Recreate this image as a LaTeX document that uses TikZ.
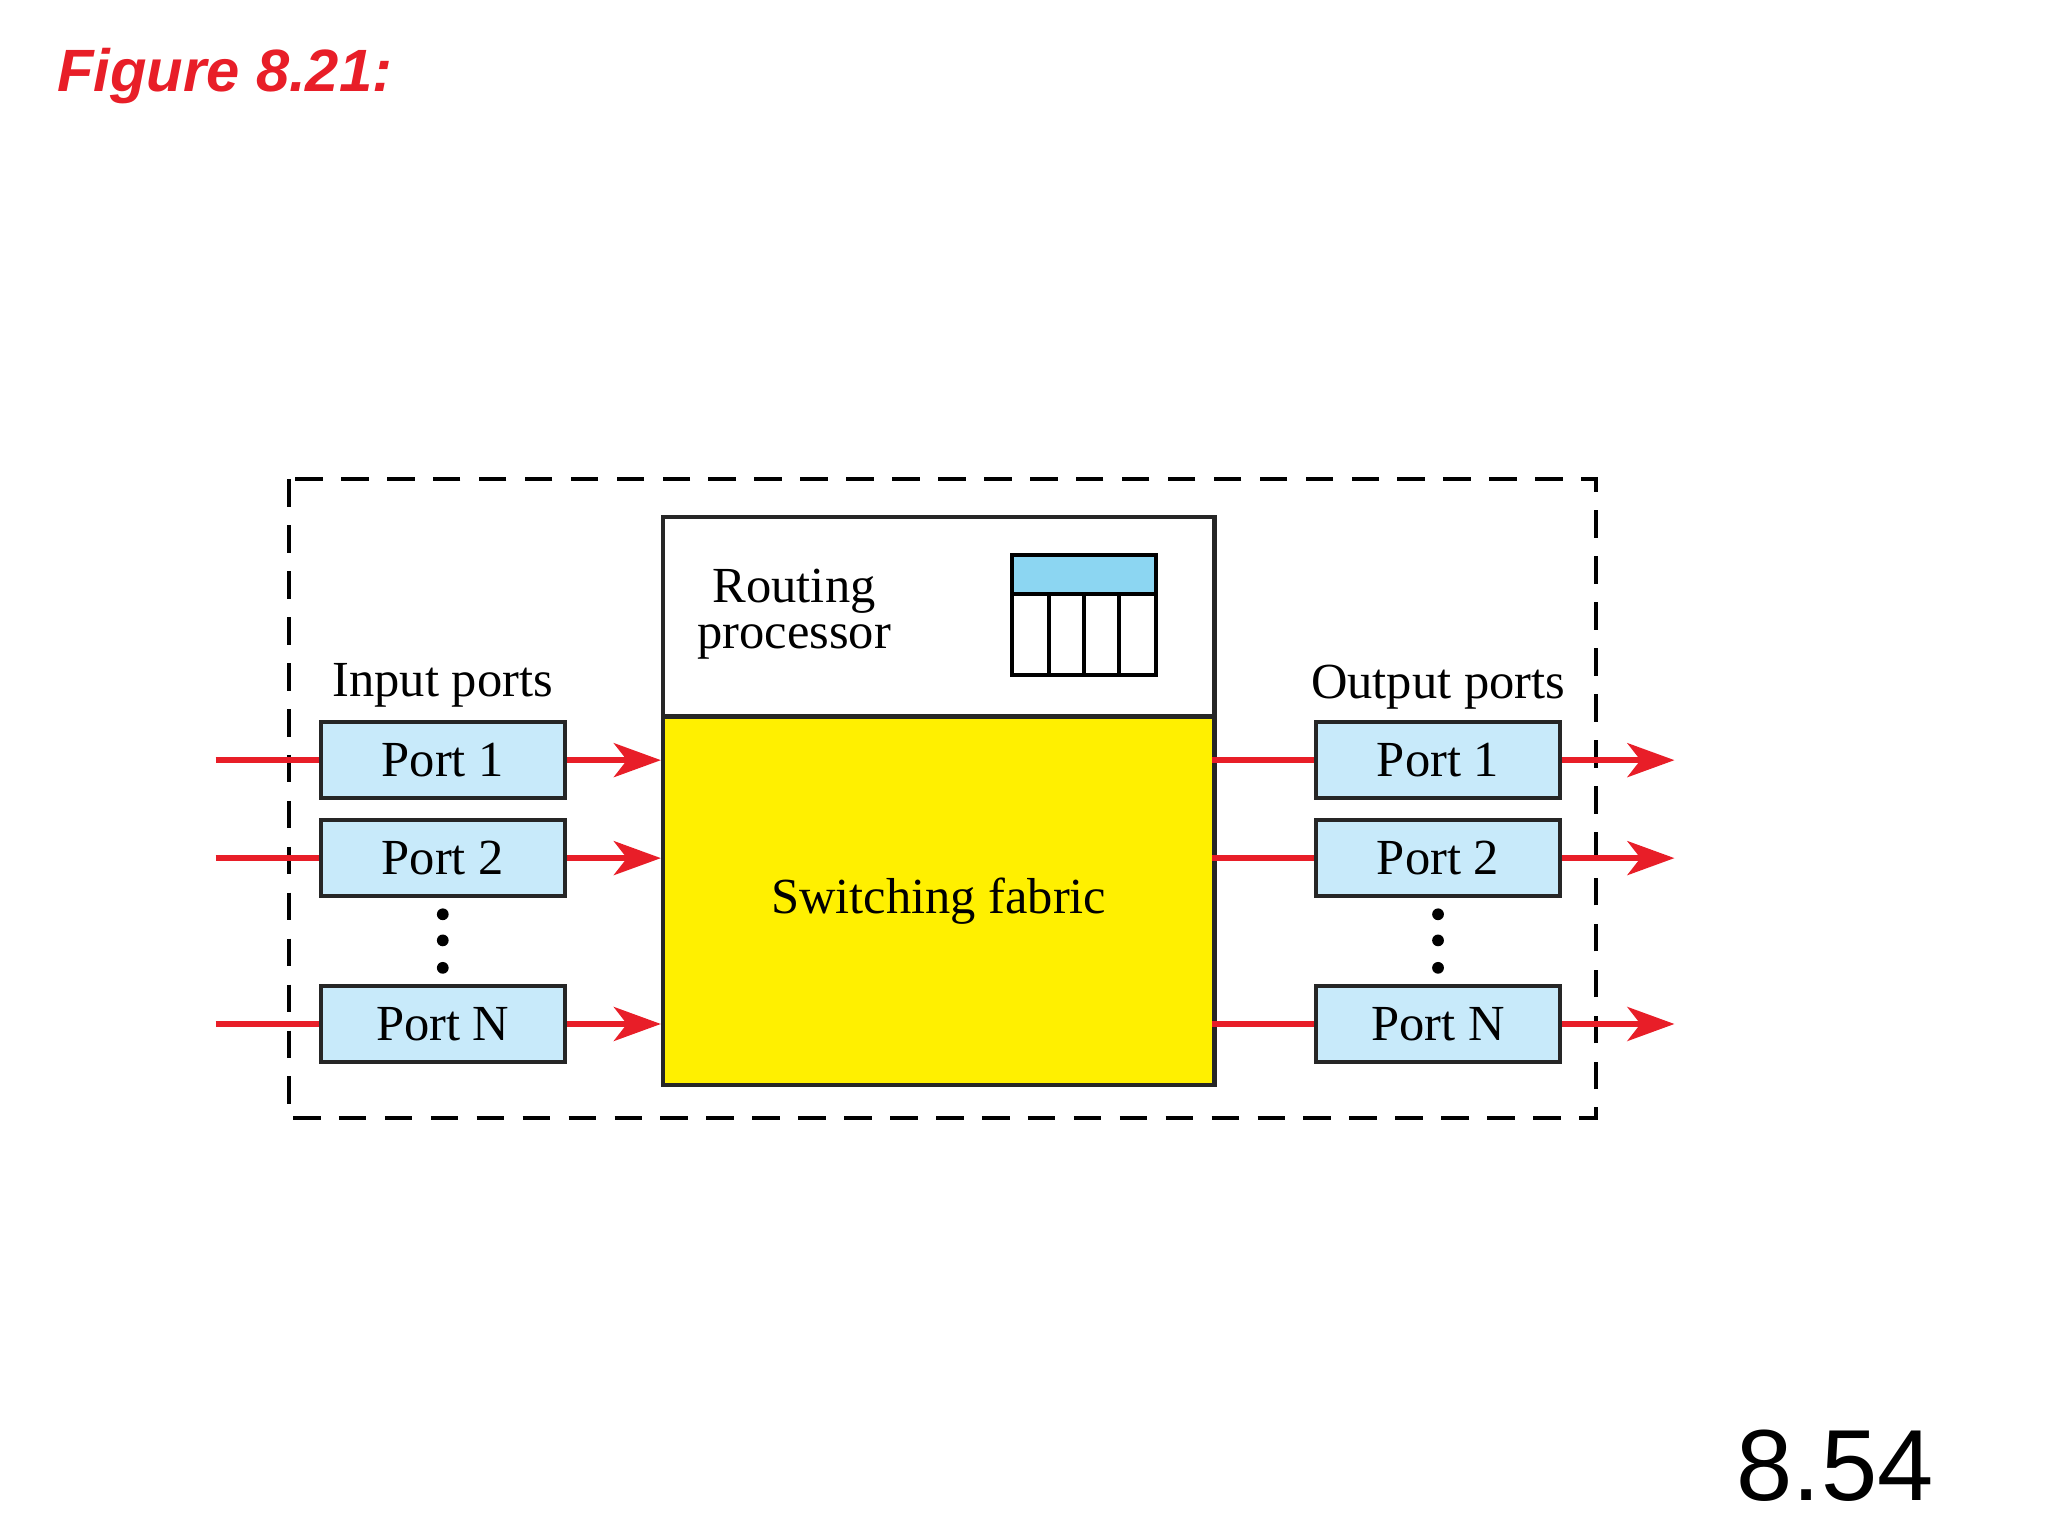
\documentclass[tikz,border=0pt]{standalone}
\usepackage{fontspec}
\setmainfont{Liberation Serif}
\newfontfamily\sansf{Liberation Sans}
\usetikzlibrary{arrows.meta}
\definecolor{rd}{RGB}{232,30,40}
\definecolor{pb}{RGB}{200,234,250}
\definecolor{hb}{RGB}{140,214,242}
\definecolor{yl}{RGB}{255,240,0}
\begin{document}
\begin{tikzpicture}[x=0.01cm,y=-0.01cm,
  port/.style={draw=black!85,line width=0.9pt,fill=pb,minimum width=1.87cm,minimum height=0.58cm,inner sep=0pt,font=\fontsize{11}{13}\selectfont},
  lbl/.style={font=\fontsize{11}{13}\selectfont},
  rl/.style={rd,line width=1.2pt},
  ra/.style={rd,line width=1.2pt,-{Stealth[length=0.36cm,width=0.26cm,inset=0.1cm]}},
  dot/.style={circle,fill=black,inner sep=0pt,minimum size=0.09cm}]
\useasboundingbox (0,0) rectangle (1568,1176);
\node[anchor=west,inner sep=0pt,text=rd,font=\sansf\bfseries\itshape\fontsize{13}{15}\selectfont] (title) at (43,58) {Figure 8.21:};
\node[font=\sansf\fontsize{22}{26}\selectfont] (pg) at (1405,1122) {8.54};
\draw[line width=0.9pt,dash pattern=on 6pt off 4pt] (221,367) rectangle (1222,856);
\node[draw=black!85,line width=0.9pt,minimum width=4.22cm,minimum height=1.53cm,anchor=north west] (rp) at (506,394) {};
\node[draw=black!85,line width=0.9pt,fill=yl,minimum width=4.22cm,minimum height=2.82cm,anchor=north west,lbl] (sf) at (506,547) {Switching fabric};
\node[lbl,align=center,inner sep=0pt] (rpt) at (608,470) {Routing\\[-3pt]processor};
\fill[hb] (775,425) rectangle (885,455);
\draw[line width=0.9pt] (775,425) rectangle (885,517) (775,455) -- (885,455)
  (803,455) -- (803,517) (830,455) -- (830,517) (857,455) -- (857,517);
\node[lbl] (inl) at (339,525) {Input ports};
\node[lbl] (outl) at (1101,526) {Output ports};
\foreach \n/\t/\y in {1/Port 1/582,2/Port 2/657,N/Port N/784}{
  \node[port] (i\n) at (339,\y) {\t};
  \node[port] (o\n) at (1101,\y) {\t};
  \coordinate (a\n) at (165,\y);
  \coordinate (b\n) at (506,\y);
  \coordinate (c\n) at (928,\y);
  \coordinate (d\n) at (1282,\y);
  \draw[rl] (a\n) -- (i\n.west);
  \draw[ra] (i\n.east) -- (b\n);
  \draw[rl] (c\n) -- (o\n.west);
  \draw[ra] (o\n.east) -- (d\n);
}
\foreach \x in {339,1101}{
  \node[dot] at (\x,700) {};\node[dot] at (\x,720) {};\node[dot] at (\x,741) {};}
\end{tikzpicture}
\end{document}
